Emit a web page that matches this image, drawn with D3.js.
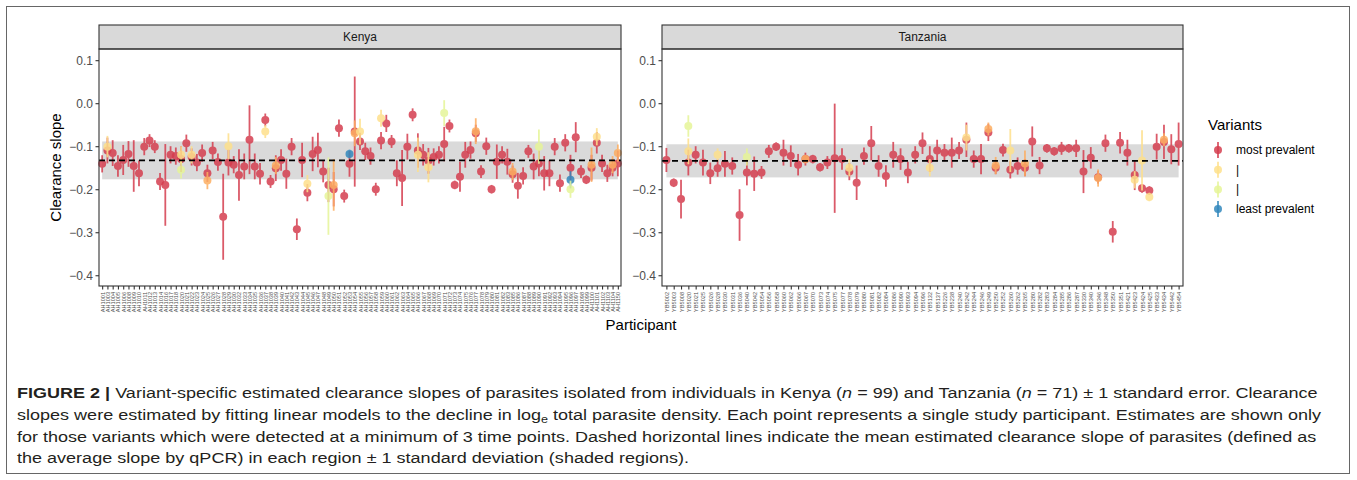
<!DOCTYPE html>
<html>
<head>
<meta charset="utf-8">
<script src="https://cdn.jsdelivr.net/npm/d3@7"></script>
<style>
body { margin: 0; background: #fff; }
text { font-family: "Liberation Sans", Arial, sans-serif; }
</style>
</head>
<body>
<script>
var WIDTH = 1357,
    HEIGHT = 480;

// ---- data ----
var KENYA_IDS = [
  "AH1001","AH1003","AH1004","AH1005","AH1006","AH1008","AH1009","AH1010","AH1011","AH1012",
  "AH1013","AH1014","AH1016","AH1017","AH1018","AH1020","AH1021","AH1022","AH1023","AH1024",
  "AH1025","AH1026","AH1027","AH1028","AH1029","AH1030","AH1032","AH1033","AH1034","AH1035",
  "AH1036","AH1037","AH1038","AH1039","AH1040","AH1041","AH1042","AH1043","AH1044","AH1045",
  "AH1046","AH1047","AH1048","AH1049","AH1050","AH1051","AH1052","AH1053","AH1054","AH1055",
  "AH1056","AH1057","AH1058","AH1059","AH1060","AH1061","AH1062","AH1063","AH1064","AH1065",
  "AH1066","AH1067","AH1068","AH1069","AH1070","AH1071","AH1072","AH1073","AH1074","AH1075",
  "AH1076","AH1077","AH1078","AH1079","AH1080","AH1081","AH1082","AH1083","AH1085","AH1086",
  "AH1087","AH1088","AH1089","AH1090","AH1091","AH1092","AH1093","AH1094","AH1095","AH1096",
  "AH1097","AH1098","AH1099","AH1100","AH1101","AH1102","AH1103","AH1104","AH1150"
];

// most prevalent variant, slope and standard error per participant
var KENYA_SLOPE = [
  -0.141,-0.110,-0.116,-0.146,-0.132,-0.118,-0.146,-0.163,-0.101,-0.087,
  -0.101,-0.182,-0.190,-0.120,-0.123,-0.130,-0.093,-0.125,-0.138,-0.116,
  -0.163,-0.110,-0.137,-0.264,-0.138,-0.143,-0.167,-0.147,-0.085,-0.147,
  -0.164,-0.039,-0.182,-0.151,-0.132,-0.164,-0.101,-0.293,-0.132,-0.208,
  -0.118,-0.109,-0.159,-0.190,-0.200,-0.058,-0.216,-0.141,-0.066,-0.089,
  -0.112,-0.123,-0.200,-0.087,-0.047,-0.089,-0.163,-0.174,-0.101,-0.027,
  -0.110,-0.120,-0.134,-0.125,-0.120,-0.095,-0.053,-0.190,-0.171,-0.120,
  -0.109,-0.070,-0.159,-0.100,-0.200,-0.136,-0.120,-0.136,-0.165,-0.192,
  -0.169,-0.112,-0.147,-0.140,-0.163,-0.163,-0.101,-0.186,-0.092,-0.150,
  -0.079,-0.159,-0.178,-0.150,-0.092,-0.140,-0.163,-0.150,-0.140
];
var KENYA_SE = [
  0.020,0.030,0.030,0.025,0.035,0.030,0.060,0.030,0.020,0.015,
  0.015,0.020,0.095,0.020,0.020,0.030,0.020,0.020,0.020,0.020,
  0.020,0.020,0.020,0.100,0.030,0.020,0.060,0.030,0.080,0.030,
  0.025,0.015,0.015,0.030,0.025,0.035,0.020,0.025,0.040,0.020,
  0.040,0.040,0.025,0.040,0.040,0.020,0.015,0.030,0.128,0.020,
  0.020,0.020,0.015,0.020,0.020,0.015,0.030,0.065,0.030,0.015,
  0.040,0.025,0.030,0.020,0.020,0.040,0.015,0.010,0.035,0.030,
  0.020,0.020,0.015,0.020,0.010,0.040,0.020,0.030,0.020,0.030,
  0.020,0.015,0.030,0.030,0.040,0.030,0.020,0.020,0.020,0.030,
  0.035,0.015,0.010,0.030,0.025,0.020,0.020,0.020,0.030
];
// other variants: [participant index, variant rank (2 = next most prevalent ... 5 = least), slope, se]
var KENYA_OTHER = [
  [1,3,-0.101,0.025],[15,4,-0.155,0.020],[15,3,-0.120,0.020],[17,3,-0.120,0.020],
  [20,2,-0.180,0.020],[24,3,-0.100,0.030],[31,3,-0.066,0.015],[33,2,-0.145,0.020],
  [39,3,-0.187,0.020],[43,4,-0.216,0.090],[44,2,-0.190,0.060],[47,5,-0.118,0.010],
  [48,2,-0.070,0.030],[49,3,-0.066,0.030],[53,3,-0.035,0.020],[60,3,-0.120,0.040],
  [62,3,-0.149,0.035],[65,4,-0.023,0.030],[71,2,-0.065,0.030],[78,2,-0.159,0.020],
  [83,4,-0.101,0.040],[89,5,-0.178,0.020],[89,4,-0.200,0.020],[93,2,-0.143,0.040],
  [94,3,-0.078,0.020],[97,2,-0.143,0.020],[98,2,-0.116,0.020]
];

var TANZANIA_IDS = [
  "YB5002","YB5003","YB5008","YB5020","YB5021","YB5025","YB5026","YB5028","YB5030","YB5031",
  "YB5036","YB5040","YB5042","YB5054","YB5056","YB5058","YB5060","YB5062","YB5066","YB5067",
  "YB5070","YB5073","YB5074","YB5075","YB5077","YB5078","YB5079","YB5080","YB5081","YB5082",
  "YB5084","YB5086","YB5090","YB5093","YB5094","YB5096","YB5132","YB5137","YB5226","YB5238",
  "YB5240","YB5242","YB5244","YB5246","YB5249","YB5250","YB5252","YB5260","YB5262","YB5265",
  "YB5280","YB5282","YB5283","YB5284","YB5285","YB5286","YB5287","YB5330","YB5340","YB5346",
  "YB5348","YB5350","YB5351","YB5421","YB5423","YB5424","YB5425","YB5433","YB5434","YB5442",
  "YB5454"
];
var TANZANIA_SLOPE = [
  -0.132,-0.185,-0.223,-0.138,-0.120,-0.138,-0.163,-0.151,-0.141,-0.146,
  -0.260,-0.161,-0.164,-0.161,-0.112,-0.101,-0.115,-0.123,-0.143,-0.130,
  -0.130,-0.149,-0.138,-0.128,-0.130,-0.159,-0.185,-0.123,-0.093,-0.146,
  -0.169,-0.120,-0.130,-0.161,-0.120,-0.093,-0.130,-0.110,-0.115,-0.115,
  -0.110,-0.085,-0.130,-0.130,-0.068,-0.150,-0.109,-0.155,-0.146,-0.150,
  -0.089,-0.145,-0.105,-0.112,-0.105,-0.105,-0.105,-0.159,-0.127,-0.172,
  -0.093,-0.299,-0.092,-0.115,-0.167,-0.198,-0.203,-0.101,-0.090,-0.107,
  -0.095
];
var TANZANIA_SE = [
  0.028,0.010,0.045,0.030,0.020,0.030,0.025,0.020,0.030,0.020,
  0.060,0.030,0.040,0.015,0.015,0.010,0.030,0.025,0.025,0.015,
  0.010,0.010,0.015,0.127,0.025,0.020,0.040,0.020,0.040,0.025,
  0.025,0.030,0.025,0.025,0.020,0.025,0.030,0.025,0.020,0.035,
  0.020,0.040,0.020,0.035,0.020,0.015,0.015,0.020,0.020,0.020,
  0.035,0.020,0.010,0.010,0.015,0.010,0.020,0.050,0.025,0.015,
  0.020,0.025,0.025,0.030,0.035,0.010,0.010,0.030,0.040,0.035,
  0.050
];
var TANZANIA_OTHER = [
  [3,4,-0.053,0.025],[3,3,-0.112,0.030],[7,3,-0.120,0.015],[11,4,-0.125,0.020],
  [19,2,-0.130,0.010],[25,3,-0.150,0.020],[36,3,-0.150,0.020],[41,3,-0.080,0.030],
  [44,2,-0.060,0.015],[45,2,-0.145,0.020],[47,3,-0.110,0.050],[49,2,-0.140,0.030],
  [59,2,-0.174,0.020],[64,3,-0.178,0.020],[65,3,-0.133,0.070],[66,3,-0.218,0.010],
  [68,2,-0.085,0.015]
];

// mean clearance slope by qPCR and its standard deviation
var REGION_MEAN = { Kenya: -0.133, Tanzania: -0.134 };
var REGION_SD = { Kenya: 0.044, Tanzania: 0.0385 };

var Y_TICKS = [0.1, 0.0, -0.1, -0.2, -0.3, -0.4];
var VARIANT_COLORS = ["#d53e4f", "#fdae61", "#fee08b", "#e6f598", "#3288bd"];
var LEGEND_LABELS = ["most prevalent", "|", "|", "least prevalent"];
var LEGEND_RANKS = [1, 3, 4, 5];

// ---- layout ----
var PANEL_TOP = 49, PANEL_BOTTOM = 286, STRIP_TOP = 25;
var PANELS = [
  { name: "Kenya", x0: 99, x1: 621, ids: KENYA_IDS, slope: KENYA_SLOPE, se: KENYA_SE, other: KENYA_OTHER },
  { name: "Tanzania", x0: 662, x1: 1183, ids: TANZANIA_IDS, slope: TANZANIA_SLOPE, se: TANZANIA_SE, other: TANZANIA_OTHER }
];

var svg = d3.select('body').append('svg')
    .attr('width', WIDTH)
    .attr('height', HEIGHT);

svg.append('rect')
    .attr('x', 6.5).attr('y', 6.5)
    .attr('width', 1343).attr('height', 467)
    .attr('fill', 'none')
    .attr('stroke', '#666')
    .attr('stroke-width', 1);

var y = d3.scaleLinear()
    .domain([-0.425, 0.126])
    .range([PANEL_BOTTOM, PANEL_TOP]);

PANELS.forEach(drawPanel);
drawLegend();
drawCaption();

svg.append('text')
    .attr('transform', 'translate(55,' + ((PANEL_TOP + PANEL_BOTTOM) / 2) + ') rotate(-90)')
    .attr('text-anchor', 'middle')
    .attr('dominant-baseline', 'central')
    .attr('font-size', 15)
    .attr('fill', '#000')
    .text('Clearance slope');

svg.append('text')
    .attr('x', (99 + 1183) / 2)
    .attr('y', 330)
    .attr('text-anchor', 'middle')
    .attr('font-size', 15)
    .attr('fill', '#000')
    .text('Participant');

function drawPanel(p) {
    var g = svg.append('g');

    var x = d3.scalePoint()
        .domain(p.ids)
        .range([p.x0, p.x1])
        .padding(0.6);

    // strip
    g.append('rect')
        .attr('x', p.x0).attr('y', STRIP_TOP)
        .attr('width', p.x1 - p.x0).attr('height', PANEL_TOP - STRIP_TOP)
        .attr('fill', '#d9d9d9')
        .attr('stroke', '#333')
        .attr('stroke-width', 1.1);
    g.append('text')
        .attr('x', (p.x0 + p.x1) / 2)
        .attr('y', (STRIP_TOP + PANEL_TOP) / 2)
        .attr('text-anchor', 'middle')
        .attr('dominant-baseline', 'central')
        .attr('font-size', 12)
        .attr('fill', '#1a1a1a')
        .text(p.name);

    // shaded +/- 1 sd band
    var mean = REGION_MEAN[p.name], sd = REGION_SD[p.name];
    var first = x(p.ids[0]), last = x(p.ids[p.ids.length - 1]);
    g.append('rect')
        .attr('x', first)
        .attr('y', y(mean + sd))
        .attr('width', last - first)
        .attr('height', y(mean - sd) - y(mean + sd))
        .attr('fill', '#dadada');

    // points
    var rows = p.ids.map(function(id, i) {
        return { id: id, rank: 1, slope: p.slope[i], se: p.se[i] };
    });
    p.other.forEach(function(o) {
        rows.push({ id: p.ids[o[0]], rank: o[1], slope: o[2], se: o[3] });
    });

    var pts = g.append('g').selectAll('g')
        .data(rows)
        .enter()
        .append('g')
        .attr('opacity', 0.85);

    pts.append('line')
        .attr('x1', d => x(d.id)).attr('x2', d => x(d.id))
        .attr('y1', d => y(d.slope + d.se)).attr('y2', d => y(d.slope - d.se))
        .attr('stroke', d => VARIANT_COLORS[d.rank - 1])
        .attr('stroke-width', 1.8);
    pts.append('circle')
        .attr('cx', d => x(d.id))
        .attr('cy', d => y(d.slope))
        .attr('r', 4)
        .attr('fill', d => VARIANT_COLORS[d.rank - 1]);

    // mean line
    g.append('line')
        .attr('x1', p.x0).attr('x2', p.x1)
        .attr('y1', y(mean)).attr('y2', y(mean))
        .attr('stroke', '#000')
        .attr('stroke-width', 1.8)
        .attr('stroke-dasharray', '6,4');

    // panel border
    g.append('rect')
        .attr('x', p.x0).attr('y', PANEL_TOP)
        .attr('width', p.x1 - p.x0).attr('height', PANEL_BOTTOM - PANEL_TOP)
        .attr('fill', 'none')
        .attr('stroke', '#333')
        .attr('stroke-width', 1.1);

    // y axis
    var yAxis = g.append('g')
        .attr('transform', 'translate(' + p.x0 + ',0)')
        .call(d3.axisLeft(y).tickValues(Y_TICKS).tickFormat(d3.format('.1f')).tickSize(3.5).tickPadding(2.5));
    yAxis.select('.domain').remove();
    yAxis.selectAll('line').attr('stroke', '#333').attr('stroke-width', 1.1);
    yAxis.selectAll('text')
        .attr('font-size', 12)
        .attr('font-family', '"Liberation Sans", Arial, sans-serif')
        .attr('fill', '#4d4d4d')
        .text(d => d3.format('.1f')(d).replace('-', '\u2212'));

    // x axis
    var xAxis = g.append('g')
        .attr('transform', 'translate(0,' + PANEL_BOTTOM + ')')
        .call(d3.axisBottom(x).tickSize(3.5).tickPadding(1.5));
    xAxis.select('.domain').remove();
    xAxis.selectAll('line').attr('stroke', '#333').attr('stroke-width', 1.1);
    xAxis.selectAll('text')
        .attr('font-size', 5.6)
        .attr('font-family', '"Liberation Sans", Arial, sans-serif')
        .attr('fill', '#4d4d4d')
        .attr('text-anchor', 'end')
        .attr('dy', null)
        .attr('y', null)
        .attr('transform', 'translate(0,6) rotate(-90)')
        .attr('dominant-baseline', 'central');
}

function drawLegend() {
    var g = svg.append('g');
    g.append('text')
        .attr('x', 1208).attr('y', 130)
        .attr('font-size', 15)
        .attr('fill', '#000')
        .text('Variants');

    var item = g.selectAll('g.item')
        .data(LEGEND_LABELS)
        .enter()
        .append('g')
        .attr('class', 'item')
        .attr('transform', (d, i) => 'translate(1218,' + (150 + i * 19.7) + ')');

    item.append('line')
        .attr('y1', -8).attr('y2', 8)
        .attr('stroke', (d, i) => VARIANT_COLORS[LEGEND_RANKS[i] - 1])
        .attr('stroke-width', 1.8)
        .attr('opacity', 0.85);
    item.append('circle')
        .attr('r', 4)
        .attr('fill', (d, i) => VARIANT_COLORS[LEGEND_RANKS[i] - 1])
        .attr('opacity', 0.85);
    item.append('text')
        .attr('x', 18)
        .attr('dominant-baseline', 'central')
        .attr('font-size', 12)
        .attr('fill', '#000')
        .text(d => d);
}

function drawCaption() {
    var lines = [
        [["FIGURE 2 | ", "b"], ["Variant-specific estimated clearance slopes of parasites isolated from individuals in Kenya (", ""], ["n", "i"], [" = 99) and Tanzania (", ""], ["n", "i"], [" = 71) \u00b1 1 standard error. Clearance", ""]],
        [["slopes were estimated by fitting linear models to the decline in log", ""], ["e", "sub"], [" total parasite density. Each point represents a single study participant. Estimates are shown only", ""]],
        [["for those variants which were detected at a minimum of 3 time points. Dashed horizontal lines indicate the mean estimated clearance slope of parasites (defined as", ""]],
        [["the average slope by qPCR) in each region \u00b1 1 standard deviation (shaded regions).", ""]]
    ];
    // first caption line runs from x = 17 to x = 1318 in the figure
    var FIRST_LINE_WIDTH = 1301;

    var texts = lines.map(function(parts, i) {
        var grp = svg.append('g');
        var t = grp.append('text')
            .attr('font-size', 15)
            .attr('fill', '#231f20');
        parts.forEach(function(part, j) {
            var s = t.append('tspan').text(part[0]);
            if (part[1] === 'b') s.attr('font-weight', 'bold');
            if (part[1] === 'i') s.attr('font-style', 'italic');
            if (part[1] === 'sub') s.attr('font-size', 10.5).attr('dy', 3);
            if (j > 0 && parts[j - 1][1] === 'sub') s.attr('dy', -3);
        });
        return { grp: grp, t: t };
    });

    // the figure's caption font is a little wider than ours
    var sx = FIRST_LINE_WIDTH / texts[0].t.node().getComputedTextLength();
    texts.forEach(function(o, i) {
        o.grp.attr('transform', 'translate(17,' + (398 + i * 21.8) + ') scale(' + sx + ',1)');
    });
}
</script>
</body>
</html>
